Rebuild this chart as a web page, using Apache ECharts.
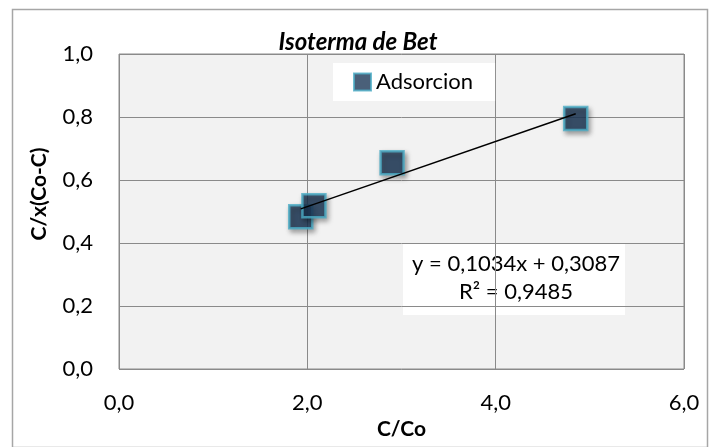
<!DOCTYPE html>
<html>
<head>
<meta charset="utf-8">
<script src="https://cdn.jsdelivr.net/npm/echarts@6/dist/echarts.min.js"></script>
<style>
  html, body { margin: 0; padding: 0; background: #ffffff; }
  #chart { width: 716px; height: 447px; }
</style>
</head>
<body>
<div id="chart"></div>
<script>
// Adsorption data: relative concentration vs BET linear form
const seriesName = 'Adsorcion';
const xValues = [1.93, 2.07, 2.90, 4.85];
const yValues = [0.483, 0.518, 0.655, 0.795];

// Linear fit reported on the chart
const fitSlope = 0.1034;
const fitIntercept = 0.3087;
const fitR2 = 0.9485;

const xTicks = [0, 2, 4, 6];
const yTicks = [0, 0.2, 0.4, 0.6, 0.8, 1.0];

const xTitle = 'C/Co';
const yTitle = 'C/x(Co-C)';

const FONT = 'Lato, "Open Sans", sans-serif';
const comma = (v, d) => v.toFixed(d).replace('.', ',');

const points = xValues.map((x, i) => [x, yValues[i]]);
const xMin = Math.min(...xValues);
const xMax = Math.max(...xValues);
const trend = [
  [xMin, fitSlope * xMin + fitIntercept],
  [xMax, fitSlope * xMax + fitIntercept]
];

const chart = echarts.init(document.getElementById('chart'), null, { renderer: 'canvas' });

chart.setOption({
  backgroundColor: '#ffffff',
  animation: false,
  title: {
    text: 'Isoterma de Bet',
    left: 'center',
    top: 25,
    textStyle: { fontFamily: FONT, fontSize: 24, fontWeight: 'bold', fontStyle: 'italic', color: '#000' }
  },
  legend: {
    data: [{ name: seriesName, icon: 'rect' }],
    left: 333,
    top: 63,
    padding: [8, 22, 8, 20],
    backgroundColor: '#ffffff',
    itemWidth: 17,
    itemHeight: 17,
    itemGap: 4,
    textStyle: { fontFamily: FONT, fontSize: 22, color: '#000' }
  },
  grid: {
    left: 119, right: 32, top: 54, bottom: 78,
    show: true,
    backgroundColor: '#f2f2f2',
    borderColor: '#8c8c8c',
    borderWidth: 1
  },
  xAxis: {
    type: 'value',
    min: xTicks[0], max: xTicks[xTicks.length - 1], interval: 2,
    name: xTitle,
    nameLocation: 'middle',
    nameGap: 49,
    nameTextStyle: { fontFamily: FONT, fontSize: 21, fontWeight: 'bold', color: '#000' },
    axisLine: { show: false },
    axisTick: { show: false },
    axisLabel: { margin: 23, fontFamily: FONT, fontSize: 22, color: '#000', formatter: v => comma(v, 1) },
    splitLine: { show: true, lineStyle: { color: '#8a8a8a', width: 1 } }
  },
  yAxis: {
    type: 'value',
    min: yTicks[0], max: yTicks[yTicks.length - 1], interval: 0.2,
    axisLine: { show: false },
    axisTick: { show: false },
    axisLabel: { margin: 26, fontFamily: FONT, fontSize: 22, color: '#000', formatter: v => comma(v, 1) },
    splitLine: { show: true, lineStyle: { color: '#8a8a8a', width: 1 } }
  },
  series: [
    {
      name: seriesName,
      type: 'scatter',
      data: points,
      symbol: 'rect',
      symbolSize: 23,
      itemStyle: {
        color: '#1d3858',
        borderColor: '#4bacc6',
        borderWidth: 2.5,
        shadowColor: 'rgba(0,0,0,0.45)',
        shadowBlur: 5,
        shadowOffsetX: 2,
        shadowOffsetY: 3
      },
      z: 2
    },
    {
      name: 'trend',
      type: 'line',
      data: trend,
      symbol: 'none',
      lineStyle: { color: '#000', width: 1.5 },
      silent: true,
      z: 3
    }
  ],
  graphic: [
    {
      type: 'rect',
      left: 10, top: 7,
      shape: { width: 695, height: 438 },
      style: { fill: 'none', stroke: '#a6a6a6', lineWidth: 1.5 },
      silent: true,
      z: -1
    },
    {
      // vertical axis title
      type: 'text',
      x: 39, y: 194,
      rotation: Math.PI / 2,
      style: {
        text: yTitle,
        fontFamily: FONT, fontSize: 21, fontWeight: 'bold', fill: '#000',
        align: 'center', verticalAlign: 'middle'
      }
    },
    {
      type: 'group',
      left: 403, top: 243,
      children: [
        { type: 'rect', shape: { x: 0, y: 0, width: 222, height: 72 }, style: { fill: '#ffffff' } },
        {
          type: 'text',
          x: 113, y: 35,
          style: {
            text: 'y = ' + comma(fitSlope, 4) + 'x + ' + comma(fitIntercept, 4) + '\nR² = ' + comma(fitR2, 4),
            fontFamily: FONT, fontSize: 22, fill: '#000',
            align: 'center', verticalAlign: 'middle', lineHeight: 28
          }
        }
      ]
    }
  ]
});
</script>
</body>
</html>
